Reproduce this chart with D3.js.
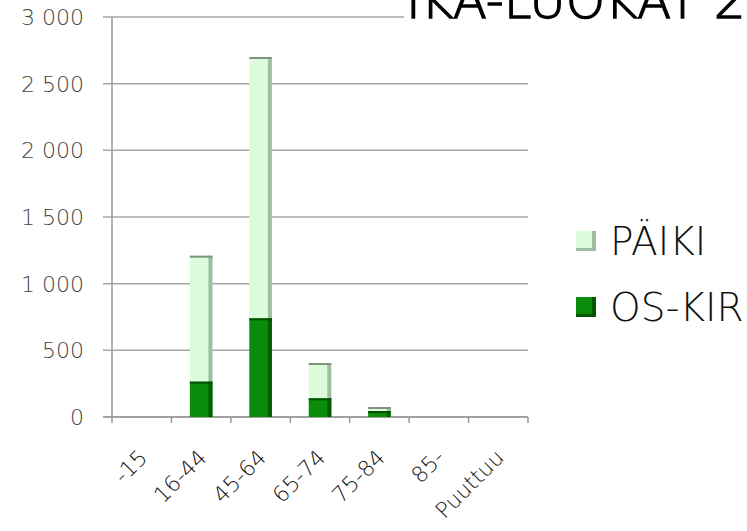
<!DOCTYPE html>
<meta charset="utf-8">
<style>
body { margin: 0; background: #fff; }
</style>
<body>
<script src="https://cdnjs.cloudflare.com/ajax/libs/d3/7.8.5/d3.min.js"></script>
<script>

// data
var ages = ["-15", "16-44", "45-64", "65-74", "75-84", "85-", "Puuttuu"];
var osKir = [0, 265, 740, 140, 45, 0, 0];
var paiki = [0, 945, 1960, 265, 30, 0, 0];
var yTicks = [0, 500, 1000, 1500, 2000, 2500, 3000];
var seriesNames = ["PÄIKI", "OS-KIR"];

var width = 747, height = 531;

var svg = d3.select("body").append("svg")
    .attr("width", width)
    .attr("height", height);

var x = d3.scaleBand()
    .domain(ages)
    .range([112, 528]);

var y = d3.scaleLinear()
    .domain([0, 3000])
    .range([417, 17]);

var fmt = function(d) {
  return d3.format(",")(d).replace(",", " ");
};

// gridlines
svg.append("g")
  .selectAll("line")
  .data(yTicks)
  .enter().append("line")
    .attr("x1", 103)
    .attr("x2", 528)
    .attr("y1", function(d) { return y(d); })
    .attr("y2", function(d) { return y(d); })
    .attr("stroke", "#a6a6a6")
    .attr("stroke-width", 1.5);

// y axis labels
svg.append("g")
  .selectAll("text")
  .data(yTicks)
  .enter().append("text")
    .attr("x", 84)
    .attr("y", function(d) { return y(d); })
    .attr("dy", "0.36em")
    .attr("text-anchor", "end")
    .style("font-family", "DejaVu Sans, sans-serif")
    .style("font-weight", 200)
    .style("font-size", "22px")
    .style("fill", "#444")
    .text(fmt);

// y axis line
svg.append("line")
    .attr("x1", 112).attr("x2", 112)
    .attr("y1", y(3000)).attr("y2", y(0))
    .attr("stroke", "#999")
    .attr("stroke-width", 1.5);

// x axis line and ticks
svg.append("line")
    .attr("x1", 103).attr("x2", 528)
    .attr("y1", y(0)).attr("y2", y(0))
    .attr("stroke", "#999")
    .attr("stroke-width", 1.5);

var bounds = ages.map(function(a) { return x(a); }).concat([x.range()[1]]);
svg.append("g")
  .selectAll("line")
  .data(bounds)
  .enter().append("line")
    .attr("x1", function(d) { return d; })
    .attr("x2", function(d) { return d; })
    .attr("y1", y(0))
    .attr("y2", y(0) + 6)
    .attr("stroke", "#999")
    .attr("stroke-width", 1.5);

// bars
var barW = x.bandwidth() * 0.38;
var rows = ages.map(function(a, i) {
  return {age: a, os: osKir[i], pa: paiki[i]};
});

function drawSeg(g, x0, y0, y1, fill, side, top) {
  if (y1 - y0 <= 0) return;
  g.append("rect")
      .attr("x", x0).attr("y", y0)
      .attr("width", barW).attr("height", y1 - y0)
      .attr("fill", fill);
  g.append("rect")
      .attr("x", x0 + barW - 4).attr("y", y0)
      .attr("width", 4).attr("height", y1 - y0)
      .attr("fill", side);
  g.append("rect")
      .attr("x", x0).attr("y", y0)
      .attr("width", barW).attr("height", Math.min(2, y1 - y0))
      .attr("fill", top);
}

var bars = svg.append("g");
rows.forEach(function(d) {
  var x0 = x(d.age) + (x.bandwidth() - barW) / 2;
  drawSeg(bars, x0, y(d.os + d.pa), y(d.os), "#dcfcdc", "#9fbe9f", "#7f937f");
  drawSeg(bars, x0, y(d.os), y(0), "#0a8c0a", "#006000", "#005200");
});

// x labels, rotated
svg.append("g")
  .selectAll("text")
  .data(ages)
  .enter().append("text")
    .attr("transform", function(d) {
      return "translate(" + (x(d) + x.bandwidth() / 2 + 7) + "," + (y(0) + 42) + ") rotate(-45)";
    })
    .attr("text-anchor", "end")
    .style("font-family", "DejaVu Sans, sans-serif")
    .style("font-weight", 200)
    .style("font-size", "22px")
    .style("fill", "#111")
    .text(function(d) { return d; });

// legend
var legColors = [["#dcfcdc", "#9fbe9f"], ["#0a8c0a", "#005800"]];
var legend = svg.append("g");
seriesNames.forEach(function(name, i) {
  var ly = 241 + i * 66;
  legend.append("rect")
      .attr("x", 576).attr("y", ly - 10)
      .attr("width", 20).attr("height", 20)
      .attr("fill", legColors[i][1]);
  legend.append("rect")
      .attr("x", 576).attr("y", ly - 10)
      .attr("width", 16).attr("height", 17)
      .attr("fill", legColors[i][0]);
  legend.append("text")
      .attr("x", 610)
      .attr("y", ly)
      .attr("dy", "0.36em")
      .style("font-family", "DejaVu Sans, sans-serif")
      .style("font-weight", 200)
      .style("font-size", "39px")
      .style("fill", "#111")
      .text(name);
});

// title, clipped at the top of the page
svg.append("rect")
    .attr("x", 404).attr("y", 0)
    .attr("width", 343).attr("height", 20)
    .attr("fill", "#fff");
svg.append("text")
    .attr("x", 406)
    .attr("y", 18)
    .style("font-family", "DejaVu Sans, sans-serif")
    .style("font-weight", 200)
    .style("font-size", "50px")
    .style("fill", "#000")
    .style("stroke", "#000")
    .style("stroke-width", 1.3)
    .text("IKÄ-LUOKAT 2");

</script>
</body>
